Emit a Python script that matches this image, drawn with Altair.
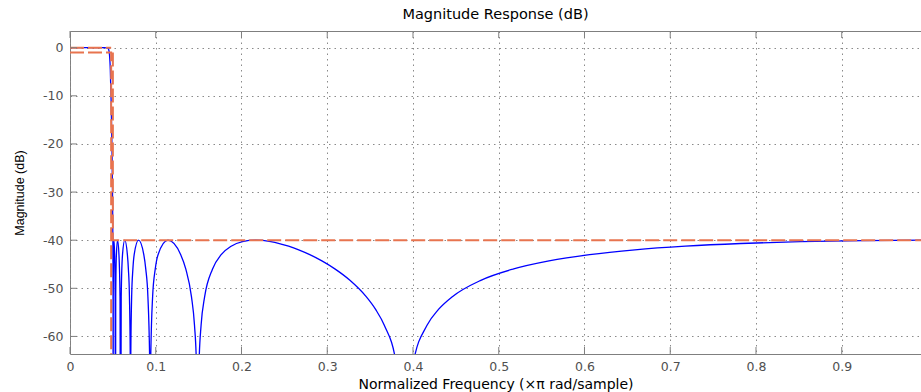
import altair as alt
import pandas as pd

# Magnitude response (normalized frequency, dB)
freq = [0.0, 0.02, 0.04, 0.044, 0.045, 0.046, 0.047, 0.048, 0.049, 0.0495, 0.0498,
        0.05000, 0.05008, 0.05022, 0.05032, 0.05043, 0.05071, 0.05128, 0.05203, 0.05263,
        0.05296, 0.05332, 0.05410, 0.05547, 0.05709, 0.05833, 0.05900, 0.05972, 0.06124,
        0.06387, 0.06692, 0.06809, 0.06932, 0.07031, 0.07057, 0.07083, 0.07190, 0.07334,
        0.07485, 0.07994, 0.08606, 0.08837, 0.09085, 0.09295, 0.09349, 0.09405, 0.09634,
        0.09939, 0.10268, 0.11423, 0.12913, 0.13508, 0.14164, 0.14519, 0.14740, 0.14892,
        0.15047, 0.15287, 0.15703, 0.16611, 0.17632, 0.18793, 0.20118, 0.21642, 0.23414,
        0.24411, 0.25494, 0.26673, 0.27962, 0.29376, 0.30929, 0.32643, 0.34543, 0.35640,
        0.36654, 0.38032, 0.39004, 0.40023, 0.41635, 0.42971, 0.44589, 0.47911, 0.51648,
        0.55859, 0.60591, 0.65882, 0.71764, 0.78208, 0.85151, 0.92471, 1.0]
mag = [0.0, 0.0, 0.0, -0.09, -0.34, -1.34, -4.57, -11.30, -21.44, -28.56, -34.43,
       -40.0, -43.01, -51.74, -100.0, -51.74, -43.01, -40.0, -43.01, -51.74,
       -100.0, -51.74, -43.01, -40.0, -43.01, -51.74, -100.0, -51.74, -43.01,
       -40.0, -43.01, -46.02, -51.74, -65.62, -100.0, -65.62, -51.74, -46.02,
       -43.01, -40.0, -43.01, -46.02, -51.74, -65.62, -100.0, -65.62, -51.74,
       -46.02, -43.01, -40.0, -43.01, -46.02, -51.74, -57.69, -65.62, -100.0,
       -65.62, -57.69, -51.74, -46.02, -43.01, -41.25, -40.30, -40.0, -40.30,
       -40.69, -41.25, -42.01, -43.01, -44.31, -46.02, -48.34, -51.74, -54.39,
       -57.69, -65.62, -100.0, -65.62, -57.69, -54.39, -51.74, -48.34, -46.02,
       -44.31, -43.01, -42.01, -41.25, -40.69, -40.30, -40.08, -40.0]

# Specification mask (red dashed)
mask_x = [0.0, 0.048, 0.0, 0.048, 0.048, 0.05, 0.05, 1.0]
mask_y = [0.0, 0.0, -1.0, -1.0, -70.0, -1.0, -40.0, -40.0]
mask_seg = [0, 0, 1, 1, 1, 2, 2, 2]

x_ticks = [0.0, 0.1, 0.2, 0.3, 0.4, 0.5, 0.6, 0.7, 0.8, 0.9]
y_ticks = [0, -10, -20, -30, -40, -50, -60]

resp = pd.DataFrame({"f": freq, "m": mag})
mask = pd.DataFrame({"f": mask_x, "m": mask_y, "seg": mask_seg,
                     "o": list(range(len(mask_x)))})
xt = pd.DataFrame({"f": x_ticks})
yt = pd.DataFrame({"m": y_ticks})

W, H = 851, 323
xscale = alt.Scale(domain=[0, 0.99242], nice=False, zero=False)
yscale = alt.Scale(domain=[-63.65, 3.47], nice=False, zero=False)

xaxis = alt.Axis(values=x_ticks, format="~g", title="Normalized Frequency (×π rad/sample)",
                 grid=True, ticks=False, domain=False, labelPadding=6, titlePadding=5,
                 labelFont="DejaVu Sans", labelFontSize=12.5, labelColor="#505050",
                 titleFont="DejaVu Sans", titleFontSize=14, titleFontWeight="normal",
                 titleColor="#000000", labelFlush=False)
yaxis = alt.Axis(values=y_ticks, labelExpr="'' + datum.value", title="Magnitude (dB)",
                 grid=True, ticks=False, domain=False, labelPadding=7, titlePadding=16,
                 labelFont="DejaVu Sans", labelFontSize=12.5, labelColor="#505050",
                 titleFont="Liberation Sans", titleFontSize=12.5, titleFontWeight="normal",
                 titleColor="#000000")

X = alt.X("f:Q", scale=xscale, axis=xaxis)
Y = alt.Y("m:Q", scale=yscale, axis=yaxis)

line = alt.Chart(resp).mark_line(color="#0000ff", strokeWidth=1.3, clip=True,
                                 interpolate="monotone").encode(x=X, y=Y)

masks = alt.Chart(mask).mark_line(color="#e8744f", strokeWidth=2, strokeDash=[14, 4],
                                  clip=True).encode(
    x=X, y=Y, detail="seg:N", order="o:Q")

tick_style = dict(color="#7f7f7f", strokeWidth=1)
bottom_ticks = alt.Chart(xt).mark_rule(**tick_style).encode(
    x=X, y=alt.value(H), y2=alt.value(H - 7))
top_ticks = alt.Chart(xt).mark_rule(**tick_style).encode(
    x=X, y=alt.value(0), y2=alt.value(7))
left_ticks = alt.Chart(yt).mark_rule(**tick_style).encode(
    y=Y, x=alt.value(0), x2=alt.value(7))

chart = alt.layer(line, masks, bottom_ticks, top_ticks, left_ticks).properties(
    width=W, height=H,
    title=alt.TitleParams("Magnitude Response (dB)", font="DejaVu Sans", fontSize=14.5,
                          fontWeight="normal", color="#000000", anchor="middle", offset=8),
    autosize=alt.AutoSizeParams(type="none"),
    padding={"left": 70, "top": 31, "right": 0, "bottom": 38},
    background="#ffffff",
).configure_view(stroke="#7f7f7f", strokeWidth=1).configure_axis(
    gridColor="#8a8a8a", gridDash=[1.5, 4], gridOpacity=1, gridWidth=1)

chart.save("out.html", embed_options={"renderer": "svg", "actions": False})
